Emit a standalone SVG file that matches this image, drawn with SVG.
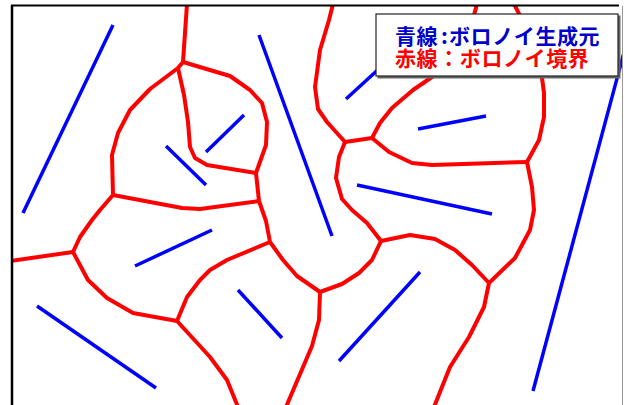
<svg xmlns="http://www.w3.org/2000/svg" width="624" height="405" viewBox="0 0 624 405">
<style>
.gen{stroke:#0000ff;stroke-width:3.5;fill:none;stroke-linecap:butt}
.bnd{stroke:#ff0000;stroke-width:4;fill:none;stroke-linejoin:round;stroke-linecap:butt}
.lg{font-family:"Noto Sans CJK JP","Noto Sans CJK SC",sans-serif;font-weight:bold;font-size:21px}
</style>
<defs>
<clipPath id="area"><rect x="12" y="6" width="610" height="399"/></clipPath>
</defs>
<rect x="0" y="0" width="624" height="405" fill="#ffffff"/>
<g clip-path="url(#area)">
<g id="generators">
<line class="gen" x1="113" y1="25" x2="23" y2="213"/>
<line class="gen" x1="259" y1="35" x2="332" y2="236"/>
<line class="gen" x1="244" y1="115" x2="206" y2="152"/>
<line class="gen" x1="166" y1="146" x2="206" y2="185"/>
<line class="gen" x1="346" y1="99" x2="382" y2="66"/>
<line class="gen" x1="418" y1="129" x2="486" y2="116"/>
<line class="gen" x1="357" y1="185" x2="492" y2="214"/>
<line class="gen" x1="626" y1="45" x2="533" y2="391"/>
<line class="gen" x1="212" y1="230" x2="135" y2="266"/>
<line class="gen" x1="37" y1="306" x2="156" y2="388"/>
<line class="gen" x1="238" y1="290" x2="282" y2="338"/>
<line class="gen" x1="420" y1="272" x2="339" y2="361"/>
</g>
<g id="connectors">
<polyline class="bnd" points="187,4 183,62"/>
<polyline class="bnd" points="183,62 230,76 250,90 262,103 267,122 266,145 256,173"/>
<polyline class="bnd" points="183,62 178,68"/>
<polyline class="bnd" points="178,68 150,89 130,110 118,133 112,155 113,195"/>
<polyline class="bnd" points="178,68 184,95 188,122 190,147 195,158 207,165 256,173"/>
<polyline class="bnd" points="256,173 259,201"/>
<polyline class="bnd" points="113,195 182,208 200,209 259,201"/>
<polyline class="bnd" points="113,195 100,210 92,220 80,237 73,252"/>
<polyline class="bnd" points="73,252 10,261"/>
<polyline class="bnd" points="73,252 88,280 107,298 133,313 177,321"/>
<polyline class="bnd" points="177,321 187,297 200,280 210,270 227,260 270,242"/>
<polyline class="bnd" points="259,201 266,221 270,242"/>
<polyline class="bnd" points="177,321 210,357 227,380 238,407"/>
<polyline class="bnd" points="270,242 283,260 297,276 320,292"/>
<polyline class="bnd" points="320,292 342,284 359,273 372,260 381,241"/>
<polyline class="bnd" points="320,292 319,320 312,346 286,407"/>
<polyline class="bnd" points="381,241 410,235 435,239 455,250 472,265 489,283"/>
<polyline class="bnd" points="381,241 367,223 352,210 342,199 336,178 339,157 345,142"/>
<polyline class="bnd" points="333,4 329,20 320,50 315,87 318,109 327,122 345,142"/>
<polyline class="bnd" points="345,142 372,138"/>
<polyline class="bnd" points="372,138 380,123 392,108 413,90 435,75 455,55 470,30 477,4"/>
<polyline class="bnd" points="372,138 389,152 412,163 432,165 527,162"/>
<polyline class="bnd" points="527,162 539,140 544,117 544,93 542,78 535,45 514,4"/>
<polyline class="bnd" points="527,162 532,187 534,210 530,230 515,258 489,283"/>
<polyline class="bnd" points="489,283 484,307 469,337 450,367 434,407"/>
</g>
</g>
<g id="frame">
<line x1="11" y1="5.5" x2="619" y2="5.5" stroke="#000" stroke-width="2"/>
<line x1="12" y1="5" x2="12" y2="405" stroke="#000" stroke-width="2.5"/>
<line x1="622.5" y1="6" x2="622.5" y2="405" stroke="#999" stroke-width="1"/>
</g>
<g id="legend">
<rect x="377.5" y="15.5" width="243" height="63" fill="#666"/>
<rect x="376" y="14" width="242" height="62" fill="#ffffff" stroke="#222" stroke-width="1.2"/>
<text class="lg" fill="#0000cc" y="43.5" x="395 416.6 441 449 470.6 492.2 513.8 535.4 557 578.6">青線:ボロノイ生成元</text>
<text class="lg" fill="#ff0000" y="65.5" x="395 416.6 438.2 459.8 481.4 503 524.6 546.2 567.8">赤線：ボロノイ境界</text>
</g>
</svg>
